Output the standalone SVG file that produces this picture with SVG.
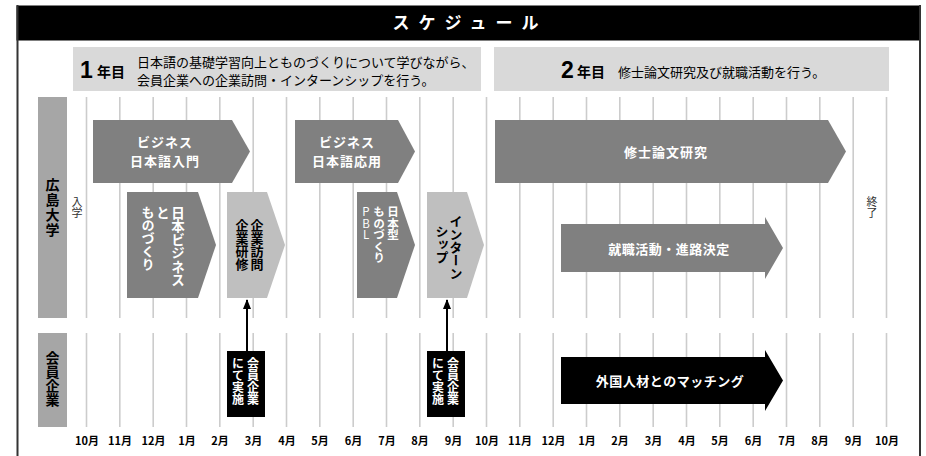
<svg xmlns="http://www.w3.org/2000/svg" width="926" height="456" viewBox="0 0 926 456">
<style>
.jp{font-family:"Noto Sans CJK JP","Noto Sans",sans-serif}
.b{font-weight:bold}
.w{fill:#fff}
.k{fill:#000}
.v{writing-mode:vertical-rl;text-orientation:upright}
.grid line{stroke:#cccccc;stroke-width:1.6}
.dk{fill:#808080}
.lt{fill:#bfbfbf}
.mon{font-family:"Noto Sans CJK JP",sans-serif;font-weight:bold;font-size:11px;fill:#000;text-anchor:middle}
.hc{text-anchor:middle}
</style>
<defs>
<marker id="ah" markerWidth="10" markerHeight="8" refX="9" refY="4" orient="auto" markerUnits="userSpaceOnUse" viewBox="0 0 10 8">
<path d="M0,0 L10,4 L0,8 Z" fill="#000"/>
</marker>
</defs>
<rect x="0" y="0" width="926" height="456" fill="#fff"/>
<!-- frame -->
<g id="frame">
<rect x="16.5" y="5.5" width="904" height="35" fill="#000"/>
<line x1="17.5" y1="5" x2="17.5" y2="456" stroke="#333" stroke-width="2"/>
<line x1="920" y1="5" x2="920" y2="456" stroke="#333" stroke-width="2"/>
<text class="jp b w hc" x="470" y="29" font-size="17" letter-spacing="9">スケジュール</text>
</g>
<!-- year headers -->
<g id="year1">
<rect x="73" y="47" width="408" height="44" fill="#d9d9d9"/>
<text x="80" y="77.5" font-family="Liberation Sans,Arial,sans-serif" font-weight="bold" font-size="23" fill="#000">1</text>
<text class="jp b" x="97" y="77" font-size="14" fill="#000">年目</text>
<text class="jp" font-size="13" fill="#000"><tspan x="137" y="67">日本語の基礎学習向上とものづくりについて学びながら、</tspan><tspan x="137" y="84.5">会員企業への企業訪問・インターンシップを行う。</tspan></text>
</g>
<g id="year2">
<rect x="494" y="47" width="395" height="44" fill="#d9d9d9"/>
<text x="561" y="77.5" font-family="Liberation Sans,Arial,sans-serif" font-weight="bold" font-size="23" fill="#000">2</text>
<text class="jp b" x="577" y="77" font-size="14" fill="#000">年目</text>
<text class="jp" x="618" y="77" font-size="13" fill="#000">修士論文研究及び就職活動を行う。</text>
</g>
<!-- grid -->
<g class="grid" id="grid">
<line x1="86.5" y1="97" x2="86.5" y2="318"/><line x1="86.5" y1="333" x2="86.5" y2="427"/>
<line x1="119.8" y1="97" x2="119.8" y2="318"/><line x1="119.8" y1="333" x2="119.8" y2="427"/>
<line x1="153.2" y1="97" x2="153.2" y2="318"/><line x1="153.2" y1="333" x2="153.2" y2="427"/>
<line x1="186.5" y1="97" x2="186.5" y2="318"/><line x1="186.5" y1="333" x2="186.5" y2="427"/>
<line x1="219.8" y1="97" x2="219.8" y2="318"/><line x1="219.8" y1="333" x2="219.8" y2="427"/>
<line x1="253.2" y1="97" x2="253.2" y2="318"/><line x1="253.2" y1="333" x2="253.2" y2="427"/>
<line x1="286.5" y1="97" x2="286.5" y2="318"/><line x1="286.5" y1="333" x2="286.5" y2="427"/>
<line x1="319.8" y1="97" x2="319.8" y2="318"/><line x1="319.8" y1="333" x2="319.8" y2="427"/>
<line x1="353.2" y1="97" x2="353.2" y2="318"/><line x1="353.2" y1="333" x2="353.2" y2="427"/>
<line x1="386.5" y1="97" x2="386.5" y2="318"/><line x1="386.5" y1="333" x2="386.5" y2="427"/>
<line x1="419.8" y1="97" x2="419.8" y2="318"/><line x1="419.8" y1="333" x2="419.8" y2="427"/>
<line x1="453.2" y1="97" x2="453.2" y2="318"/><line x1="453.2" y1="333" x2="453.2" y2="427"/>
<line x1="486.5" y1="97" x2="486.5" y2="318"/><line x1="486.5" y1="333" x2="486.5" y2="427"/>
<line x1="519.8" y1="97" x2="519.8" y2="318"/><line x1="519.8" y1="333" x2="519.8" y2="427"/>
<line x1="553.2" y1="97" x2="553.2" y2="318"/><line x1="553.2" y1="333" x2="553.2" y2="427"/>
<line x1="586.5" y1="97" x2="586.5" y2="318"/><line x1="586.5" y1="333" x2="586.5" y2="427"/>
<line x1="619.8" y1="97" x2="619.8" y2="318"/><line x1="619.8" y1="333" x2="619.8" y2="427"/>
<line x1="653.2" y1="97" x2="653.2" y2="318"/><line x1="653.2" y1="333" x2="653.2" y2="427"/>
<line x1="686.5" y1="97" x2="686.5" y2="318"/><line x1="686.5" y1="333" x2="686.5" y2="427"/>
<line x1="719.8" y1="97" x2="719.8" y2="318"/><line x1="719.8" y1="333" x2="719.8" y2="427"/>
<line x1="753.2" y1="97" x2="753.2" y2="318"/><line x1="753.2" y1="333" x2="753.2" y2="427"/>
<line x1="786.5" y1="97" x2="786.5" y2="318"/><line x1="786.5" y1="333" x2="786.5" y2="427"/>
<line x1="819.8" y1="97" x2="819.8" y2="318"/><line x1="819.8" y1="333" x2="819.8" y2="427"/>
<line x1="853.2" y1="97" x2="853.2" y2="318"/><line x1="853.2" y1="333" x2="853.2" y2="427"/>
<line x1="886.5" y1="97" x2="886.5" y2="318"/><line x1="886.5" y1="333" x2="886.5" y2="427"/>
</g>
<!-- month labels -->
<g id="months">
<text class="mon" x="87" y="445">10月</text>
<text class="mon" x="120" y="445">11月</text>
<text class="mon" x="153.5" y="445">12月</text>
<text class="mon" x="187" y="445">1月</text>
<text class="mon" x="220" y="445">2月</text>
<text class="mon" x="253.5" y="445">3月</text>
<text class="mon" x="287" y="445">4月</text>
<text class="mon" x="320" y="445">5月</text>
<text class="mon" x="353.5" y="445">6月</text>
<text class="mon" x="387" y="445">7月</text>
<text class="mon" x="420" y="445">8月</text>
<text class="mon" x="453.5" y="445">9月</text>
<text class="mon" x="487" y="445">10月</text>
<text class="mon" x="520" y="445">11月</text>
<text class="mon" x="553.5" y="445">12月</text>
<text class="mon" x="587" y="445">1月</text>
<text class="mon" x="620" y="445">2月</text>
<text class="mon" x="653.5" y="445">3月</text>
<text class="mon" x="687" y="445">4月</text>
<text class="mon" x="720" y="445">5月</text>
<text class="mon" x="753.5" y="445">6月</text>
<text class="mon" x="787" y="445">7月</text>
<text class="mon" x="820" y="445">8月</text>
<text class="mon" x="853.5" y="445">9月</text>
<text class="mon" x="887" y="445">10月</text>
</g>
<!-- row labels -->
<g id="row-univ">
<rect x="38" y="97" width="29" height="221" fill="#a6a6a6"/>
<text class="jp b k v" x="52.5" y="178" font-size="14" letter-spacing="1">広島大学</text>
</g>
<g id="row-company">
<rect x="38" y="333" width="29" height="94" fill="#a6a6a6"/>
<text class="jp b k v" x="52.5" y="351" font-size="14">会員企業</text>
</g>
<g id="enter">
<text class="jp v" x="77" y="196" font-size="11" fill="#333">入学</text>
</g>
<g id="finish">
<text class="jp v" x="872" y="196" font-size="11" fill="#333">終了</text>
</g>
<!-- nodes -->
<g id="biz-intro">
<polygon class="dk" points="93,120 232,120 250,151.5 232,183 93,183"/>
<text class="jp b w hc" font-size="13" letter-spacing="1"><tspan x="165" y="146.5">ビジネス</tspan><tspan x="165" y="166">日本語入門</tspan></text>
</g>
<g id="biz-monozukuri">
<polygon class="dk" points="127,192 198,192 216,245 198,298 127,298"/>
<text class="jp b w v" x="178" y="206" font-size="13.5">日本ビジネス</text>
<text class="jp b w v" x="163" y="206" font-size="13.5">と</text>
<text class="jp b w v" x="148" y="206" font-size="13">ものづくり</text>
</g>
<g id="company-visit">
<polygon class="lt" points="227,192 267,192 285,245 267,298 227,298"/>
<text class="jp b k v" x="257" y="219" font-size="13">企業訪問</text>
<text class="jp b k v" x="242" y="219" font-size="13">企業研修</text>
</g>
<g id="biz-applied">
<polygon class="dk" points="295,120 398,120 415,151.5 398,183 295,183"/>
<text class="jp b w hc" font-size="13" letter-spacing="1"><tspan x="347" y="146.5">ビジネス</tspan><tspan x="347" y="166">日本語応用</tspan></text>
</g>
<g id="pbl">
<polygon class="dk" points="357,192 397,192 415,245 397,298 357,298"/>
<text class="jp b w v" x="393" y="206" font-size="11.5">日本型</text>
<text class="jp b w v" x="379" y="206" font-size="11.5">ものづくり</text>
<text class="jp w v" x="366" y="206" font-size="11.5">PBL</text>
</g>
<g id="internship">
<polygon class="lt" points="427,192 467,192 484,245 467,298 427,298"/>
<text class="jp b k v" x="456" y="215" font-size="13">インターン</text>
<text class="jp b k v" x="442" y="225" font-size="13">シップ</text>
</g>
<g id="thesis">
<polygon class="dk" points="495,120 828,120 846,151.5 828,183 495,183"/>
<text class="jp b w hc" x="666" y="157" font-size="13" letter-spacing="1">修士論文研究</text>
</g>
<g id="job-hunting">
<polygon class="dk" points="561,224 765,224 765,217 783,248 765,279 765,272 561,272"/>
<text class="jp b w hc" x="669" y="254" font-size="13" letter-spacing="0.5">就職活動・進路決定</text>
</g>
<g id="matching">
<polygon fill="#000" points="561,357 765,357 765,350 783,380.5 765,411 765,404 561,404"/>
<text class="jp b w hc" x="670" y="386" font-size="13" letter-spacing="0.5">外国人材とのマッチング</text>
</g>
<g id="member-1">
<rect x="227" y="351" width="38" height="66" fill="#000"/>
<text class="jp b w v" x="253" y="357" font-size="12">会員企業</text>
<text class="jp b w v" x="238" y="357" font-size="12">にて実施</text>
</g>
<g id="member-2">
<rect x="427" y="351" width="38" height="66" fill="#000"/>
<text class="jp b w v" x="453" y="357" font-size="12">会員企業</text>
<text class="jp b w v" x="438" y="357" font-size="12">にて実施</text>
</g>
<!-- connectors -->
<g id="connectors" stroke="#000" stroke-width="2" fill="none">
<line x1="247" y1="351" x2="247" y2="300" marker-end="url(#ah)"/>
<line x1="447" y1="351" x2="447" y2="300" marker-end="url(#ah)"/>
</g>
</svg>
